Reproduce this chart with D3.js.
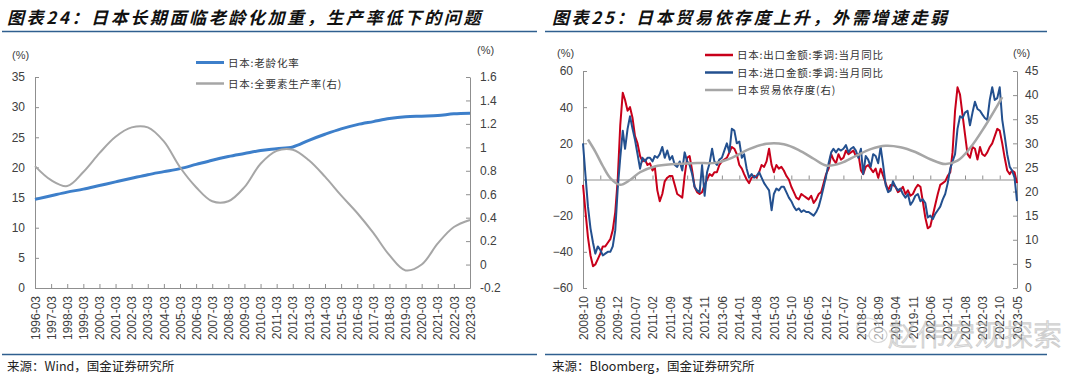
<!DOCTYPE html>
<html><head><meta charset="utf-8">
<script src="https://cdn.jsdelivr.net/npm/d3@7"></script>
<style>
html,body{margin:0;padding:0;background:#fff;}
svg{display:block;}
text{font-family:"Liberation Sans",Arial,sans-serif;}
</style></head><body>
<svg id="c" width="1080" height="383"></svg>
<script>
// ---------------- Left chart data ----------------
const yearLabels = ["1996-03","1997-03","1998-03","1999-03","2000-03","2001-03","2002-03","2003-03","2004-03","2005-03","2006-03","2007-03","2008-03","2009-03","2010-03","2011-03","2012-03","2013-03","2014-03","2015-03","2016-03","2017-03","2018-03","2019-03","2020-03","2021-03","2022-03","2023-03"];
const agingRate = [14.7,15.3,15.9,16.4,17.0,17.6,18.2,18.8,19.3,19.8,20.5,21.2,21.8,22.3,22.8,23.1,23.4,24.5,25.5,26.4,27.1,27.6,28.1,28.4,28.5,28.6,28.9,29.0];
const tfpRate = [0.84,0.72,0.67,0.79,0.95,1.09,1.17,1.17,1.05,0.83,0.66,0.54,0.54,0.66,0.86,0.97,0.98,0.89,0.75,0.59,0.44,0.27,0.08,-0.05,0.0,0.18,0.32,0.38];
const leftTicksL = [0,5,10,15,20,25,30,35];
const leftTicksR = [-0.2,0,0.2,0.4,0.6,0.8,1,1.2,1.4,1.6];

// ---------------- Right chart data ----------------
const monthTickLabels = ["2008-10","2009-05","2009-12","2010-07","2011-02","2011-09","2012-04","2012-11","2013-06","2014-01","2014-08","2015-03","2015-10","2016-05","2016-12","2017-07","2018-02","2018-09","2019-04","2019-11","2020-06","2021-01","2021-08","2022-03","2022-10","2023-05"];
const firstMonth = "2008-10", lastMonth = "2023-05";
const exportYoY = [-3,-18,-32,
 -42,-48,-47,-44,-41,-37,-37,-35,-33,-28,-18,0,
 30,48,44,38,40,34,24,20,13,10,11,8,
 9,5,7,-6,-12,-8,-1,1,2,2,-3,-8,
 -9,-10,2,12,13,5,-4,-7,-8,-7,-3,0,
 3,2,4,4,8,10,11,12,15,18,17,14,
 8,6,3,0,-2,1,2,1,4,8,7,10,
 17,8,4,8,6,7,5,2,0,-4,-7,-10,
 -11,-8,-9,-10,-11,-9,-13,-11,-8,-7,-2,3,
 6,14,11,9,14,11,12,16,14,15,16,13,
 14,5,3,7,8,6,4,6,1,6,2,-2,
 -6,-3,-3,-4,-7,-6,-4,-8,-6,-9,-8,-5,
 -3,-4,-12,-21,-27,-26,-20,-14,-8,-3,-2,-1,
 2,4,15,38,51,47,36,25,14,12,18,17,
 11,18,14,13,15,18,20,24,28,27,20,12,
 5,3,5,4,-2];
const importYoY = [20,2,-15,
 -27,-35,-41,-37,-39,-42,-41,-40,-40,-37,-28,-5,
 12,27,17,28,35,28,22,14,6,12,10,12,
 12,10,13,12,14,18,12,16,11,13,8,7,
 10,5,15,10,8,3,-4,-6,-7,8,-9,4,
 9,17,10,8,11,12,16,20,15,28,27,20,
 21,12,14,6,1,3,1,2,4,1,-2,-4,
 -6,-17,-8,-5,-6,-4,-4,-7,-10,-12,-15,-17,
 -16,-18,-17,-18,-18,-19,-20,-18,-15,-10,-4,2,
 9,15,17,15,17,16,17,19,15,17,18,16,
 12,17,3,13,11,7,14,13,9,18,8,-3,
 -7,-6,-1,-4,-6,-5,-8,-10,-8,-14,-12,-9,
 -8,-12,-11,-13,-21,-20,-22,-19,-17,-15,-11,-8,
 -2,6,10,14,28,35,34,37,38,30,37,43,
 39,38,36,34,33,44,51,44,45,51,33,24,
 14,7,5,1,-12];
const tradeDepDates = ["2008-12","2009-03","2009-06","2009-09","2010-01","2010-05","2010-09","2011-03","2011-11","2012-08","2013-04","2013-10","2014-05","2014-12","2015-07","2016-01","2016-07","2016-12","2017-06","2017-12","2018-06","2018-12","2019-06","2019-12","2020-06","2020-12","2021-05","2021-10","2022-04","2022-11"];
const tradeDep = [30.8,28.3,25.3,22.8,21.4,22.4,24.0,25.2,25.7,25.9,26.0,27.0,28.8,29.9,29.8,28.6,26.8,25.4,25.9,27.4,28.8,29.5,29.2,28.2,26.7,25.7,26.4,29.0,33.5,39.6];
const rightTicksL = [-60,-40,-20,0,20,40,60];
const rightTicksR = [0,5,10,15,20,25,30,35,40,45];

// ---------------- Drawing ----------------
const svg = d3.select("#c");
svg.append("rect").attr("width",1080).attr("height",383).attr("fill","#fff");
const cjk = '"Noto Sans CJK SC","Noto Sans",sans-serif';
const axisColor = "#8f8f8f";
const labelColor = "#404040";

function header(x0, x1, tx, title, source) {
  svg.append("text").attr("x", tx).attr("y", 24)
    .style("font-family", cjk).style("font-size", "17px").style("font-style", "italic")
    .style("font-weight", "700").style("letter-spacing", "2.6px").attr("fill", "#111")
    .text(title);
  svg.append("line").attr("x1", x0).attr("x2", x1).attr("y1", 31.5).attr("y2", 31.5)
    .attr("stroke", "#2f5f8f").attr("stroke-width", 1.5);
  svg.append("line").attr("x1", x0).attr("x2", x1).attr("y1", 354.5).attr("y2", 354.5)
    .attr("stroke", "#2f5f8f").attr("stroke-width", 1.5);
  svg.append("text").attr("x", tx).attr("y", 371)
    .style("font-family", cjk).style("font-size", "12.5px").attr("fill", "#222")
    .text(source);
}
header(2, 537, 7, "图表24：日本长期面临老龄化加重，生产率低下的问题", "来源：Wind，国金证券研究所");
header(545, 1047, 552, "图表25：日本贸易依存度上升，外需增速走弱", "来源：Bloomberg，国金证券研究所");

function styleAxis(g) {
  g.select(".domain").attr("stroke", axisColor).attr("stroke-width", 1);
  g.selectAll(".tick line").attr("stroke", axisColor);
  g.selectAll(".tick text").attr("fill", labelColor).style("font-size", "12px")
    .style("font-family", '"Liberation Sans",Arial,sans-serif');
}
const numFmt = d => String(+d.toFixed(1));

// ===== Left chart =====
const xL = d3.scalePoint().domain(yearLabels).range([35, 470]);
const yL = d3.scaleLinear().domain([0, 35]).range([288, 77]);
const yR = d3.scaleLinear().domain([-0.2, 1.6]).range([288, 77]);

svg.append("g").attr("transform", "translate(35,0)")
  .call(d3.axisLeft(yL).tickValues(leftTicksL).tickSize(-4).tickPadding(10).tickSizeOuter(0))
  .call(styleAxis);
svg.append("g").attr("transform", "translate(470,0)")
  .call(d3.axisRight(yR).tickValues(leftTicksR).tickFormat(numFmt).tickSize(-4).tickPadding(10).tickSizeOuter(0))
  .call(styleAxis);
const gxL = svg.append("g").attr("transform", "translate(0,288)")
  .call(d3.axisBottom(xL).tickSize(-4).tickSizeOuter(0))
  .call(styleAxis);
gxL.selectAll(".tick text").attr("transform", "rotate(-90)").attr("x", -8).attr("y", 0)
  .attr("dy", "0.35em").style("text-anchor", "end");

svg.append("text").attr("x", 12).attr("y", 59).attr("fill", labelColor).style("font-size", "11px").text("(%)");
svg.append("text").attr("x", 477).attr("y", 54).attr("fill", labelColor).style("font-size", "11px").text("(%)");

const smooth = d3.curveCatmullRom.alpha(0.5);
svg.append("path").datum(agingRate)
  .attr("d", d3.line().x((d, i) => xL(yearLabels[i])).y(d => yL(d)).curve(smooth))
  .attr("fill", "none").attr("stroke", "#3d7fca").attr("stroke-width", 3);
svg.append("path").datum(tfpRate)
  .attr("d", d3.line().x((d, i) => xL(yearLabels[i])).y(d => yR(d)).curve(smooth))
  .attr("fill", "none").attr("stroke", "#a6a6a6").attr("stroke-width", 2);

function legend(x, y, color, w, label) {
  svg.append("line").attr("x1", x).attr("x2", x + 28).attr("y1", y).attr("y2", y)
    .attr("stroke", color).attr("stroke-width", w);
  svg.append("text").attr("x", x + 32).attr("y", y + 4).attr("fill", "#333")
    .style("font-family", cjk).style("font-size", "10.5px").style("letter-spacing", "0.8px").text(label);
}
legend(196, 62.5, "#3d7fca", 3, "日本:老龄化率");
legend(196, 83.5, "#a6a6a6", 2.5, "日本:全要素生产率(右)");

// ===== Right chart =====
const parse = d3.timeParse("%Y-%m");
const months = d3.timeMonth.range(parse(firstMonth), d3.timeMonth.offset(parse(lastMonth), 1));
const xM = d3.scaleTime().domain([parse(firstMonth), parse(lastMonth)]).range([583, 1017]);
const yML = d3.scaleLinear().domain([-60, 60]).range([288, 71]);
const yMR = d3.scaleLinear().domain([0, 45]).range([288, 71]);

svg.append("g").attr("transform", "translate(583,0)")
  .call(d3.axisLeft(yML).tickValues(rightTicksL).tickSize(-4).tickPadding(10).tickSizeOuter(0))
  .call(styleAxis);
svg.append("g").attr("transform", "translate(1017,0)")
  .call(d3.axisRight(yMR).tickValues(rightTicksR).tickSize(-4).tickPadding(8).tickSizeOuter(0))
  .call(styleAxis);
// zero line with tick marks
const gz = svg.append("g").attr("transform", `translate(0,${yML(0)})`)
  .call(d3.axisBottom(xM).tickValues(monthTickLabels.map(parse)).tickSize(-4).tickFormat("").tickSizeOuter(0))
  .call(styleAxis);
// labels at bottom
const gxM = svg.append("g").attr("transform", "translate(0,288)")
  .call(d3.axisBottom(xM).tickValues(monthTickLabels.map(parse)).tickFormat(d3.timeFormat("%Y-%m")).tickSize(0))
  .call(styleAxis);
gxM.select(".domain").remove();
gxM.selectAll(".tick text").attr("transform", "rotate(-90)").attr("x", -8).attr("y", 0)
  .attr("dy", "0.35em").style("text-anchor", "end");

svg.append("text").attr("x", 557).attr("y", 57).attr("fill", labelColor).style("font-size", "11px").text("(%)");
svg.append("text").attr("x", 1013).attr("y", 57).attr("fill", labelColor).style("font-size", "11px").text("(%)");

svg.append("path").datum(exportYoY)
  .attr("d", d3.line().x((d, i) => xM(months[i])).y(d => yML(d)))
  .attr("fill", "none").attr("stroke", "#c8001a").attr("stroke-width", 2).attr("stroke-linejoin", "round");
svg.append("path").datum(importYoY)
  .attr("d", d3.line().x((d, i) => xM(months[i])).y(d => yML(d)))
  .attr("fill", "none").attr("stroke", "#23508f").attr("stroke-width", 2).attr("stroke-linejoin", "round");
svg.append("path").datum(tradeDep)
  .attr("d", d3.line().x((d, i) => xM(parse(tradeDepDates[i]))).y(d => yMR(d)).curve(smooth))
  .attr("fill", "none").attr("stroke", "#a6a6a6").attr("stroke-width", 2.5);

legend(705, 55, "#c8001a", 2.5, "日本:出口金额:季调:当月同比");
legend(705, 72.5, "#23508f", 2.5, "日本:进口金额:季调:当月同比");
legend(705, 90, "#a6a6a6", 2.5, "日本贸易依存度(右)");

// watermark
const wm = svg.append("g").attr("opacity", 0.55);
wm.append("ellipse").attr("cx", 868).attr("cy", 327).attr("rx", 11).attr("ry", 9)
  .attr("fill", "none").attr("stroke", "#b5b5b5").attr("stroke-width", 1.2);
wm.append("ellipse").attr("cx", 878).attr("cy", 335).attr("rx", 9).attr("ry", 7.5)
  .attr("fill", "#fff").attr("stroke", "#b5b5b5").attr("stroke-width", 1.2);
wm.append("text").attr("x", 888).attr("y", 346)
  .style("font-family", cjk).style("font-size", "29px").style("font-weight", "300")
  .attr("fill", "#fff").attr("stroke", "#a8a8a8").attr("stroke-width", 1)
  .text("赵伟宏观探索");
</script></body></html>
